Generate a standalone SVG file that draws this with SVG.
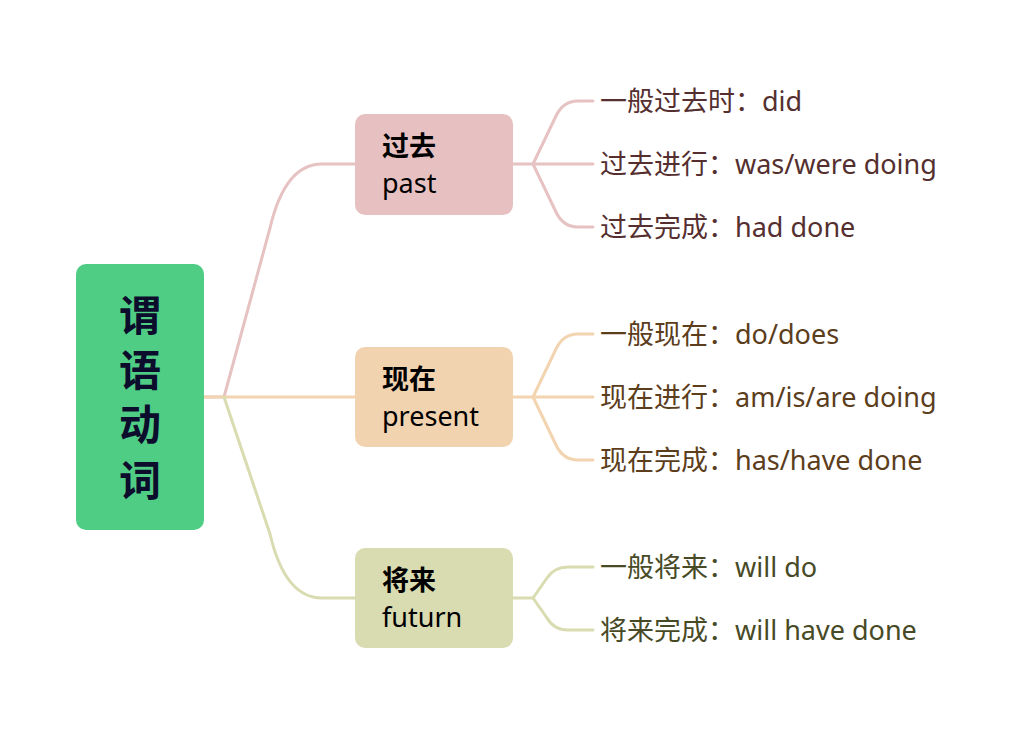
<svg xmlns="http://www.w3.org/2000/svg" width="1023" height="732" viewBox="0 0 1023 732">
<style>
text{font-family:"Noto Sans","Noto Sans CJK SC",sans-serif}
.root{font-size:42px;font-weight:bold;fill:#0c0c2c;text-anchor:middle}
.main{font-size:27px;fill:#000}
.main .b{font-weight:bold}
.leaf{font-size:27px}
.c{fill:none;stroke-width:3;stroke-linecap:round;stroke-linejoin:round}
.cp{stroke:#e6c2c2}.cr{stroke:#f2d4b0}.cf{stroke:#d9dcb0}
</style>
<rect width="1023" height="732" fill="#fff"/>
<g id="connectors">
<path class="c cp" d="M204,397 H224 L270,228 Q285,164 322,164 H355"/>
<path class="c cr" d="M204,397 H355"/>
<path class="c cf" d="M224,397 L270,534 Q285,598 322,598 H355"/>
<path class="c cp" d="M513,164 H533 L556,116 Q563,101 578,101 H593"/>
<path class="c cp" d="M533,164 H593"/>
<path class="c cp" d="M533,164 L556,212 Q563,227 578,227 H593"/>
<path class="c cr" d="M513,397 H533 L556,349 Q563,334 578,334 H593"/>
<path class="c cr" d="M533,397 H593"/>
<path class="c cr" d="M533,397 L556,445 Q563,460 578,460 H593"/>
<path class="c cf" d="M513,598 H533 L547,578 Q554,567 568,567 H593"/>
<path class="c cf" d="M533,598 L547,618 Q554,630 568,630 H593"/>
</g>
<g id="root">
<rect x="76" y="264" width="128" height="266" rx="10" fill="#50cd84"/>
<text class="root" x="140" y="331">谓</text>
<text class="root" x="140" y="386">语</text>
<text class="root" x="140" y="440">动</text>
<text class="root" x="140" y="496">词</text>
</g>
<g id="past">
<rect x="355" y="114" width="158" height="101" rx="10" fill="#e7c1c1"/>
<text class="main" x="382"><tspan class="b" x="382" y="156">过去</tspan><tspan x="382" y="193">past</tspan></text>
</g>
<g id="present">
<rect x="355" y="347" width="158" height="100" rx="10" fill="#f2d3b0"/>
<text class="main" x="382"><tspan class="b" x="382" y="389">现在</tspan><tspan x="382" y="426">present</tspan></text>
</g>
<g id="future">
<rect x="355" y="548" width="158" height="100" rx="10" fill="#d9dbb0"/>
<text class="main" x="382"><tspan class="b" x="382" y="590">将来</tspan><tspan x="382" y="627">futurn</tspan></text>
</g>
<g id="past-leaves" class="leaf" fill="#552f2f">
<text id="p1" x="600" y="111">一般过去时：did</text>
<text id="p2" x="600" y="174">过去进行：was/were doing</text>
<text id="p3" x="600" y="237">过去完成：had done</text>
</g>
<g id="present-leaves" class="leaf" fill="#5c3d1c">
<text id="r1" x="600" y="344">一般现在：do/does</text>
<text id="r2" x="600" y="407">现在进行：am/is/are doing</text>
<text id="r3" x="600" y="470">现在完成：has/have done</text>
</g>
<g id="future-leaves" class="leaf" fill="#484a26">
<text id="f1" x="600" y="577">一般将来：will do</text>
<text id="f2" x="600" y="640">将来完成：will have done</text>
</g>
</svg>
